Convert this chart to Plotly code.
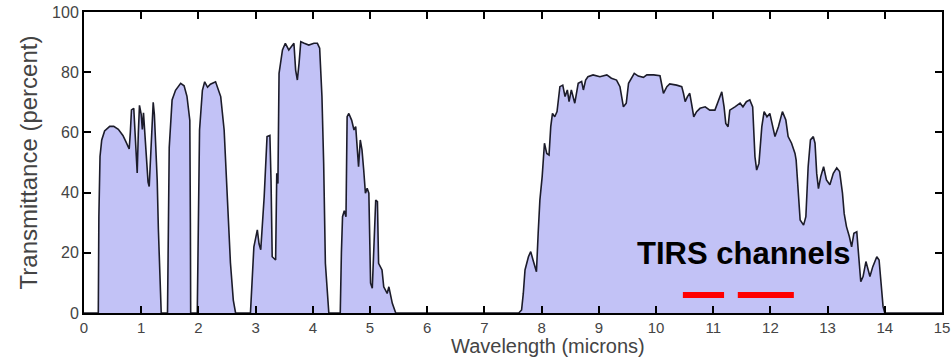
import plotly.graph_objects as go

# Wavelength (microns) and atmospheric transmittance (percent)
wavelength = [
    0.0, 0.25, 0.26, 0.28, 0.31, 0.36, 0.45, 0.52, 0.60, 0.68, 0.73, 0.79, 0.81, 0.83, 0.87, 0.89,
    0.91, 0.93, 0.95, 0.97, 1.00, 1.02, 1.04, 1.06, 1.09, 1.12, 1.14, 1.16, 1.18, 1.21, 1.23, 1.26,
    1.28, 1.30, 1.33, 1.35,
    1.46, 1.47, 1.49, 1.54, 1.60, 1.69, 1.75, 1.80, 1.85, 1.86, 1.865,
    1.98, 1.99, 2.02, 2.07, 2.11, 2.16, 2.21, 2.30, 2.39, 2.45, 2.51, 2.56, 2.61, 2.65,
    2.91, 2.94, 2.97, 3.03, 3.06, 3.09, 3.15, 3.20, 3.25, 3.27, 3.29, 3.35, 3.37, 3.39, 3.41, 3.47,
    3.52, 3.58, 3.64, 3.67, 3.70, 3.73, 3.76, 3.79, 3.85, 3.93, 4.02, 4.08, 4.12, 4.16, 4.19, 4.22,
    4.28,
    4.48, 4.50, 4.52, 4.55, 4.58, 4.60, 4.63, 4.68, 4.72, 4.75, 4.77, 4.80, 4.83, 4.86, 4.89, 4.92,
    4.95, 4.98, 5.00, 5.01, 5.04, 5.07, 5.10, 5.13, 5.15, 5.21, 5.24, 5.30, 5.33, 5.39, 5.45,
    7.60, 7.65, 7.68, 7.71, 7.77, 7.81, 7.85, 7.91, 7.94, 7.97, 8.01, 8.05, 8.09, 8.13, 8.16, 8.19,
    8.23, 8.27, 8.32, 8.37, 8.41, 8.45, 8.48, 8.52, 8.58, 8.64, 8.70, 8.73, 8.77, 8.81, 8.90, 9.02,
    9.14, 9.22, 9.31, 9.37, 9.43, 9.48, 9.52, 9.62, 9.69, 9.78, 9.84, 9.96, 10.07,
    10.10, 10.13, 10.19, 10.24, 10.36, 10.45, 10.48, 10.51, 10.55, 10.59, 10.62, 10.66, 10.71, 10.77,
    10.86, 10.94, 11.03, 11.09, 11.15, 11.19, 11.22, 11.26, 11.29, 11.38, 11.47, 11.52, 11.58, 11.64,
    11.69, 11.73, 11.76, 11.80, 11.85, 11.89, 11.94, 11.99, 12.04, 12.08, 12.14, 12.21, 12.27, 12.31,
    12.37, 12.43, 12.45, 12.49, 12.52, 12.58, 12.62, 12.66, 12.70, 12.75, 12.78, 12.81, 12.84, 12.88,
    12.93, 12.98, 13.04, 13.10, 13.16, 13.21, 13.26, 13.29, 13.33, 13.38, 13.42, 13.46, 13.51, 13.54,
    13.58, 13.62, 13.67, 13.71, 13.74, 13.79, 13.86, 13.90, 13.94, 13.97, 14.00, 15.0,
]
transmittance = [
    0, 0, 32, 52, 57.5, 60.5, 62, 62, 61, 59, 57, 54.5, 60, 67.5, 68, 60,
    50, 46.5, 60, 69, 66, 61, 66.5, 60, 50, 43.5, 42, 50, 62, 70, 66, 55,
    44, 28, 11, 0,
    0, 17.6, 55, 70.8, 74, 76.3, 75.5, 72, 64, 30, 0,
    0, 22, 60.8, 74, 76.8, 75, 76, 76.8, 71.9, 60.8, 38.6, 16.7, 4.3, 0,
    0, 12, 22, 27.6, 23, 21, 38.6, 58.6, 59, 44, 18.7, 17.6, 46.4, 43, 79.6, 87.4,
    89.6, 87.4, 89, 89.6, 80.7, 77.4, 83, 90.1, 89.6, 89, 89.6, 89.6, 88, 71.9, 49.7, 16.5,
    0,
    0, 20, 32, 34, 32, 65.2, 66.3, 64, 60.8, 61.9, 57.5, 48.6, 57.5, 54.2, 47.5, 39.8,
    41.4, 39.8, 20, 9.9, 8.2, 22, 37.5, 37, 16.5, 14.3, 8.7, 6.5, 8.7, 3.2, 0,
    0, 1, 6.5, 14.3, 18.7, 20.4, 17.6, 13.7, 26.5, 37.5, 45.3, 56.4, 53, 52.5, 61.9, 66.3,
    65.2, 66.9, 75.2, 75.7, 71.9, 74.1, 70.2, 74.1, 69.7, 76.3, 76.9, 74.1, 77.4, 78.5, 79.1, 78.5,
    79.1, 78, 77.4, 75.2, 68.5, 69.7, 76.3, 79.6, 78.7, 78.3, 79.1, 79.1, 78.8,
    76.3, 73, 75.2, 76.1, 75.7, 75.2, 73, 70.2, 71.9, 73, 69.7, 65.2, 66.9, 68,
    68.5, 67.4, 67.4, 70.2, 73.5, 68.5, 63, 61.9, 67.4, 68.5, 69.7, 68.5, 70.2, 70.8,
    68.5, 51.9, 47.5, 49.7, 61.9, 66.9, 65.2, 66.3, 61.9, 58.6, 61.9, 66.9, 64.1, 58.6,
    56.4, 53, 50.8, 39.8, 30.9, 29.2, 32, 48.6, 57.5, 58.6, 56.4, 46.3, 41.3, 45.3,
    48.6, 44.2, 42.6, 46.4, 48.2, 47, 39.8, 33, 28.7, 25.4, 22, 26.5, 27, 19.8,
    10.4, 12.1, 17.1, 14.3, 12.1, 15.4, 18.7, 17.6, 8.7, 2.1, 0, 0,
]

# TIRS channel bands (microns) and the level at which they are marked
tirs_band1 = [10.47, 11.19]
tirs_band2 = [11.43, 12.41]
tirs_level = 6.0
tirs_label = "TIRS channels"
tirs_label_pos = (11.53, 19.8)

x_ticks = list(range(0, 16))
y_ticks = [0, 20, 40, 60, 80, 100]
x_title = "Wavelength (microns)"
y_title = "Transmittance (percent)"

FONT = "Liberation Sans, Arial, sans-serif"

fig = go.Figure()
fig.add_trace(go.Scatter(
    x=wavelength, y=transmittance, mode="lines", fill="tozeroy",
    fillcolor="#c2c2f6", line=dict(color="#1c1c2a", width=1.6),
    showlegend=False, hoverinfo="skip",
))
for band in (tirs_band1, tirs_band2):
    fig.add_trace(go.Scatter(
        x=band, y=[tirs_level, tirs_level], mode="lines",
        line=dict(color="#ff0000", width=6), showlegend=False, hoverinfo="skip",
    ))

fig.add_annotation(
    x=tirs_label_pos[0], y=tirs_label_pos[1], text=tirs_label, showarrow=False,
    font=dict(family=FONT, size=31, color="#000000", weight="bold"),
    xanchor="center", yanchor="middle",
)
# x-axis title, placed just under the tick labels
fig.add_annotation(
    x=0.541, y=-0.068, xref="paper", yref="paper", text=x_title, showarrow=False,
    font=dict(family=FONT, size=20, color="#444444"),
    xanchor="center", yanchor="top",
)

axis_common = dict(
    showline=True, linecolor="#000000", linewidth=2, mirror="ticks",
    ticks="inside", ticklen=7, tickwidth=2, tickcolor="#000000",
    showgrid=False, zeroline=False,
)

fig.update_layout(
    width=952, height=360,
    margin=dict(l=84, r=10, t=12, b=47),
    paper_bgcolor="white", plot_bgcolor="white",
    xaxis=dict(
        range=[0, 15], tickvals=x_ticks, **axis_common,
        tickfont=dict(family=FONT, size=15, color="#444444"),
        automargin=False,
    ),
    yaxis=dict(
        range=[0, 100], tickvals=y_ticks, **axis_common,
        tickfont=dict(family=FONT, size=16, color="#444444"),
        title=dict(text=y_title, standoff=8,
                   font=dict(family=FONT, size=24, color="#444444")),
        automargin=False,
    ),
)

fig.write_html("out.html")
